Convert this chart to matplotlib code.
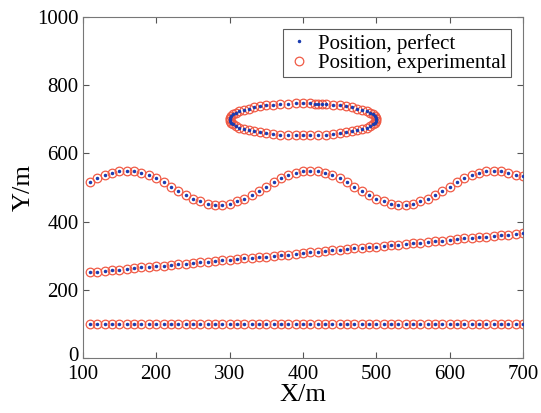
import numpy as np
import matplotlib
matplotlib.use("Agg")
import matplotlib.pyplot as plt
import matplotlib.transforms as mtransforms

plt.rcParams['font.family'] = ['Liberation Serif', 'DejaVu Serif']
plt.rcParams['mathtext.fontset'] = 'stix'

# sample x positions of the three open tracks (m)
track_x = list(range(110, 701, 10))

# straight line, y = 100
line_y = [100] * 60

# sloped line
slope_y = [252, 254, 256, 258, 260, 262, 264, 266, 267, 269,
           271, 273, 275, 277, 279, 281, 283, 285, 287, 289,
           291, 293, 295, 296, 298, 300, 302, 304, 306, 308,
           310, 312, 314, 316, 318, 320, 322, 324, 325, 327,
           329, 331, 333, 335, 337, 339, 341, 343, 345, 347,
           349, 351, 352, 354, 356, 358, 360, 362, 364, 366]

# wavy track
wave_y = [515, 527, 536, 544, 548, 550, 548, 544, 536, 527,
          515, 503, 491, 479, 468, 460, 453, 450, 450, 453,
          460, 468, 479, 491, 503, 515, 527, 536, 544, 548,
          550, 548, 544, 536, 527, 515, 503, 491, 479, 468,
          460, 453, 450, 450, 453, 460, 468, 479, 491, 503,
          515, 527, 536, 544, 548, 550, 548, 544, 538, 533]

# closed ellipse track
ellipse_x = [421, 410, 400, 390, 379, 369, 359, 350, 341, 333,
             326, 319, 313, 309, 305, 302, 301, 300, 301, 302,
             305, 309, 313, 319, 326, 333, 341, 350, 359, 369,
             379, 390, 400, 410, 421, 431, 441, 450, 459, 467,
             474, 481, 487, 491, 495, 498, 499, 500, 499, 498,
             495, 491, 487, 481, 474, 467, 459, 450, 441, 431,
             426, 416]
ellipse_y = [746, 747, 747, 747, 746, 745, 743, 741, 738, 735,
             731, 728, 724, 719, 715, 710, 705, 700, 695, 690,
             685, 681, 676, 672, 669, 665, 662, 659, 657, 655,
             654, 653, 653, 653, 654, 655, 657, 659, 662, 665,
             669, 672, 676, 681, 685, 690, 695, 700, 705, 710,
             715, 719, 724, 728, 731, 735, 738, 741, 743, 745,
             745, 746]

fig = plt.figure(figsize=(5.41, 4.13), dpi=100)
ax = fig.add_axes([0.153, 0.1325, 0.814, 0.8265])

xs = [track_x, track_x, track_x, ellipse_x]
ys = [line_y, slope_y, wave_y, ellipse_y]

dot_color = '#1a3cb0'
ring_color = '#f05a45'
for i, (x, y) in enumerate(zip(xs, ys)):
    ax.plot(x, y, '.', color=dot_color, markersize=3,
            label='Position, perfect' if i == 0 else None, zorder=3)
    ax.plot(x, y, 'o', mfc='none', mec=ring_color, markersize=6.2, mew=0.9,
            label='Position, experimental' if i == 0 else None, zorder=2)

ax.set_xlim(100, 700)
ax.set_ylim(0, 1000)
ax.set_xticks(range(100, 701, 100))
ax.set_yticks(range(0, 1001, 200))
ax.tick_params(direction='in', top=True, right=True, labelsize=15, length=4,
               width=0.8, color='#555555')
ax.tick_params(axis='x', pad=5)
ax.tick_params(axis='y', pad=3)
for s in ax.spines.values():
    s.set_color('#777777')
    s.set_linewidth(0.8)
ax.set_xlabel('X/m', fontsize=19, labelpad=0)
ax.set_ylabel('Y/m', fontsize=19, labelpad=2)

# nudge the "0" label up a little so it clears the "100" below it
zero_lbl = ax.yaxis.get_major_ticks()[0].label1
zero_lbl.set_transform(zero_lbl.get_transform() +
                       mtransforms.ScaledTranslation(0, 3 / 72, fig.dpi_scale_trans))

leg = ax.legend(loc='upper right', fontsize=15, frameon=True, fancybox=False,
                edgecolor='#333333', handletextpad=0.3, borderpad=0.2,
                labelspacing=0.0, handlelength=1.2, borderaxespad=0.6)
leg.get_frame().set_linewidth(0.8)

fig.savefig('out.png', dpi=100)
